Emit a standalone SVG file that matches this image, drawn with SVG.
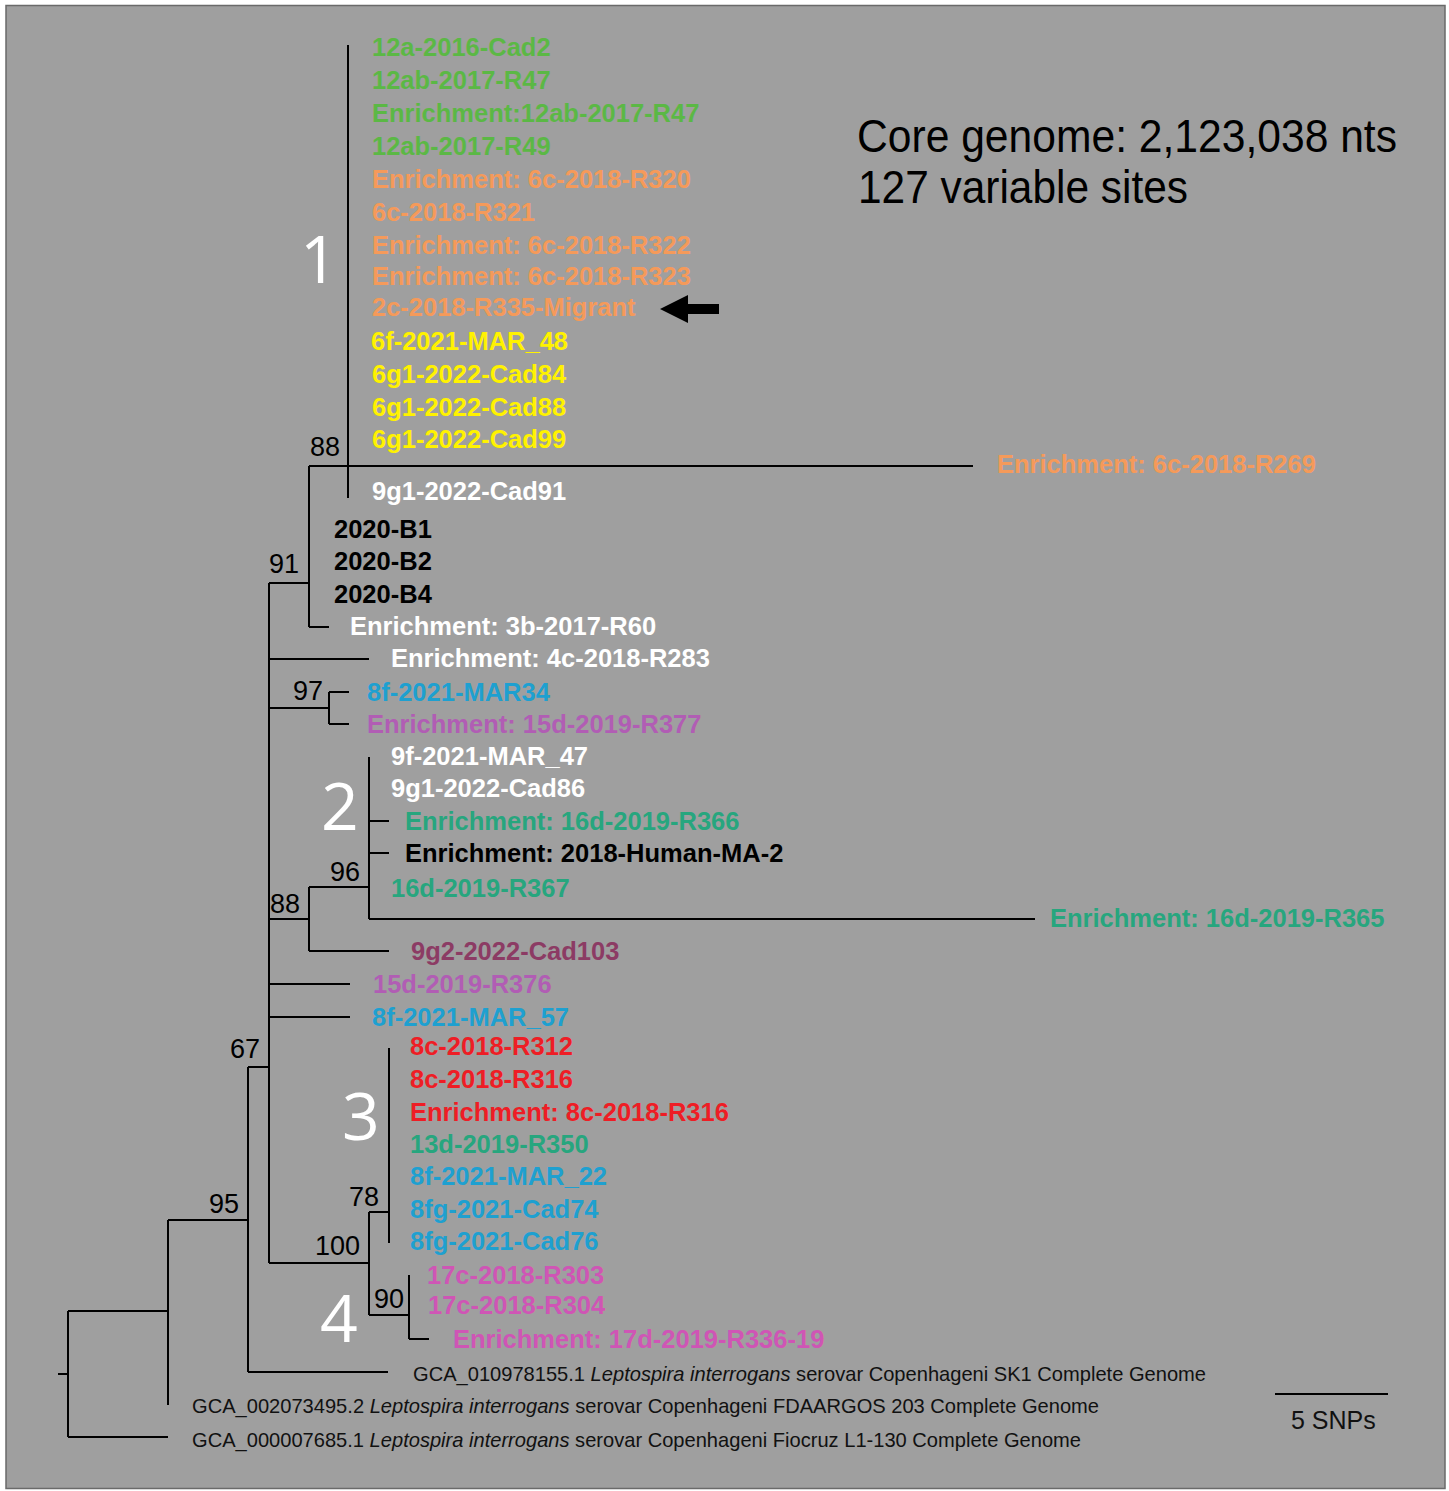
<svg xmlns="http://www.w3.org/2000/svg" width="1449" height="1491" viewBox="0 0 1449 1491">
<style>
.lab{font-family:"Liberation Sans",Arial,sans-serif;font-weight:bold;font-size:25.5px}
.bs{font-family:"Liberation Sans",Arial,sans-serif;font-size:27px;fill:#000}
.big{font-family:"Open Sans","Noto Sans",sans-serif;font-size:66px;fill:#fff}
.ref{font-family:"Liberation Sans",Arial,sans-serif;font-size:21px;fill:#111}
.g{fill:#5bb845}.o{fill:#f59a5a}.y{fill:#fff200}.w{fill:#fff}.k{fill:#000}
.b{fill:#1ea0d0}.p{fill:#b15db4}.t{fill:#27a67e}.m{fill:#8c3b64}.r{fill:#ee1d25}.pk{fill:#cf55b5}
.br{stroke:#000;stroke-width:2;fill:none}
</style>
<rect x="0" y="0" width="1449" height="1491" fill="#fff"/>
<rect x="6" y="5.5" width="1439" height="1483" fill="#9f9f9f" stroke="#6a6a6a" stroke-width="1.5"/>
<g id="connectors" class="br">
<path d="M58 1374H68M68 1311V1437M68 1437H168M68 1311H168M168 1220V1405M168 1220H248M248 1067V1372M248 1372H388M248 1067H269M269 583V1263"/>
<path d="M269 583H309M309 466V627M309 466H973M348 45V498M309 627H329"/>
<path d="M269 659H369"/>
<path d="M269 708H329M329 692V724M329 692H349M329 724H349"/>
<path d="M269 919H309M309 887V951M309 951H389M309 887H369M369 757V919M369 919H1035M369 821H389M369 853H389"/>
<path d="M269 984H350M269 1017H350"/>
<path d="M269 1263H369M369 1212V1315M369 1212H389M389 1048V1243M369 1315H409M409 1275V1339M409 1339H429"/>
</g>
<g id="clade1">
<text class="lab g" x="372" y="56">12a-2016-Cad2</text>
<text class="lab g" x="372" y="89">12ab-2017-R47</text>
<text class="lab g" x="372" y="122">Enrichment:12ab-2017-R47</text>
<text class="lab g" x="372" y="155">12ab-2017-R49</text>
<text class="lab o" x="372" y="188">Enrichment: 6c-2018-R320</text>
<text class="lab o" x="372" y="221">6c-2018-R321</text>
<text class="lab o" x="372" y="254">Enrichment: 6c-2018-R322</text>
<text class="lab o" x="372" y="285">Enrichment: 6c-2018-R323</text>
<text class="lab o" x="372" y="316">2c-2018-R335-Migrant</text>
<text class="lab y" x="371" y="350">6f-2021-MAR_48</text>
<text class="lab y" x="372" y="383">6g1-2022-Cad84</text>
<text class="lab y" x="372" y="416">6g1-2022-Cad88</text>
<text class="lab y" x="372" y="448">6g1-2022-Cad99</text>
<text class="lab w" x="372" y="500">9g1-2022-Cad91</text>
<text class="big" x="300" y="283">1</text>
</g>
<g id="arrow"><polygon points="660,309 688,295 688,304 719,304 719,314 688,314 688,323" fill="#000"/></g>
<g id="r269"><text class="lab o" x="997" y="473">Enrichment: 6c-2018-R269</text></g>
<g id="b2020">
<text class="lab k" x="334" y="538">2020-B1</text>
<text class="lab k" x="334" y="570">2020-B2</text>
<text class="lab k" x="334" y="603">2020-B4</text>
</g>
<g id="r60"><text class="lab w" x="350" y="635">Enrichment: 3b-2017-R60</text></g>
<g id="r283"><text class="lab w" x="391" y="667">Enrichment: 4c-2018-R283</text></g>
<g id="n97">
<text class="lab b" x="367" y="701">8f-2021-MAR34</text>
<text class="lab p" x="367" y="733">Enrichment: 15d-2019-R377</text>
</g>
<g id="clade2">
<text class="lab w" x="391" y="765">9f-2021-MAR_47</text>
<text class="lab w" x="391" y="797">9g1-2022-Cad86</text>
<text class="lab t" x="405" y="830">Enrichment: 16d-2019-R366</text>
<text class="lab k" x="405" y="862">Enrichment: 2018-Human-MA-2</text>
<text class="lab t" x="391" y="897">16d-2019-R367</text>
<text class="lab t" x="1050" y="927">Enrichment: 16d-2019-R365</text>
<text class="big" x="321" y="830">2</text>
</g>
<g id="cad103"><text class="lab m" x="411" y="960">9g2-2022-Cad103</text></g>
<g id="r376"><text class="lab p" x="373" y="993">15d-2019-R376</text></g>
<g id="mar57"><text class="lab b" x="372" y="1026">8f-2021-MAR_57</text></g>
<g id="clade3">
<text class="lab r" x="410" y="1055">8c-2018-R312</text>
<text class="lab r" x="410" y="1088">8c-2018-R316</text>
<text class="lab r" x="410" y="1121">Enrichment: 8c-2018-R316</text>
<text class="lab t" x="410" y="1153">13d-2019-R350</text>
<text class="lab b" x="410" y="1185">8f-2021-MAR_22</text>
<text class="lab b" x="410" y="1218">8fg-2021-Cad74</text>
<text class="lab b" x="410" y="1250">8fg-2021-Cad76</text>
<text class="big" x="342" y="1140">3</text>
</g>
<g id="clade4">
<text class="lab pk" x="427" y="1284">17c-2018-R303</text>
<text class="lab pk" x="428" y="1314">17c-2018-R304</text>
<text class="lab pk" x="453" y="1348">Enrichment: 17d-2019-R336-19</text>
<text class="big" x="320" y="1342">4</text>
</g>
<g id="support">
<text class="bs" x="310" y="456">88</text>
<text class="bs" x="269" y="573">91</text>
<text class="bs" x="293" y="700">97</text>
<text class="bs" x="330" y="881">96</text>
<text class="bs" x="270" y="913">88</text>
<text class="bs" x="230" y="1058">67</text>
<text class="bs" x="209" y="1213">95</text>
<text class="bs" x="349" y="1206">78</text>
<text class="bs" x="315" y="1255">100</text>
<text class="bs" x="374" y="1308">90</text>
</g>
<g id="refs">
<text class="ref" x="413" y="1381" textLength="793" lengthAdjust="spacingAndGlyphs">GCA_010978155.1 <tspan font-style="italic">Leptospira interrogans</tspan> serovar Copenhageni SK1 Complete Genome</text>
<text class="ref" x="192" y="1413" textLength="907" lengthAdjust="spacingAndGlyphs">GCA_002073495.2 <tspan font-style="italic">Leptospira interrogans</tspan> serovar Copenhageni FDAARGOS 203 Complete Genome</text>
<text class="ref" x="192" y="1447" textLength="889" lengthAdjust="spacingAndGlyphs">GCA_000007685.1 <tspan font-style="italic">Leptospira interrogans</tspan> serovar Copenhageni Fiocruz L1-130 Complete Genome</text>
</g>
<g id="scale">
<path d="M1275 1394H1388" class="br"/>
<text x="1291" y="1429" font-family="Liberation Sans,Arial,sans-serif" font-size="25" fill="#111">5 SNPs</text>
</g>
<g id="title" font-family="Liberation Sans,Arial,sans-serif" fill="#000">
<text x="857" y="152" font-size="46" textLength="540" lengthAdjust="spacingAndGlyphs">Core genome: 2,123,038 nts</text>
<text x="858" y="203" font-size="46" textLength="330" lengthAdjust="spacingAndGlyphs">127 variable sites</text>
</g>
</svg>
